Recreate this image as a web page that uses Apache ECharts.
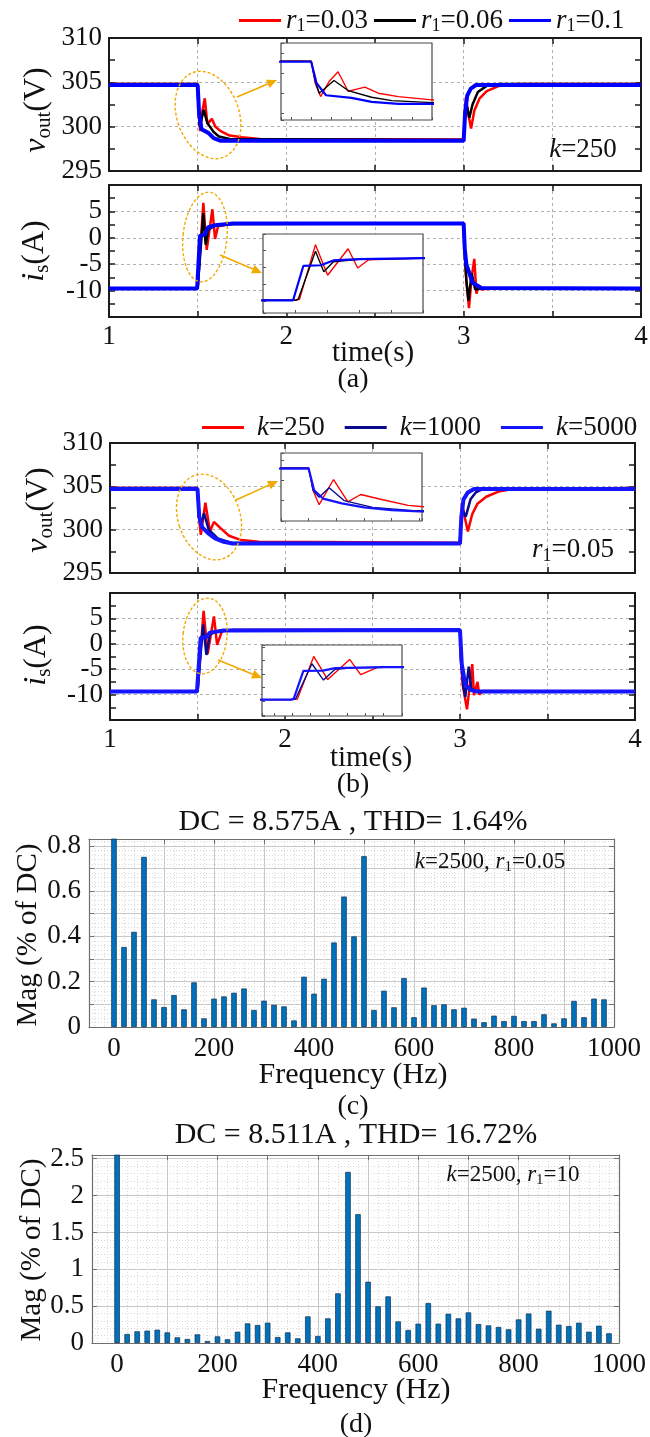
<!DOCTYPE html>
<html>
<head>
<meta charset="utf-8">
<script src="https://cdn.jsdelivr.net/npm/echarts@6/dist/echarts.min.js"></script>
<style>
  html, body { margin: 0; padding: 0; background: #fff; }
  #chart { width: 650px; height: 1437px; }
</style>
</head>
<body>
<div id="chart"></div>
<script>
// ---------- data ----------
// (a) k=250, different r1 : [time s, value]
const voutA_r003 = [[1,304.8],[1.5,304.8],[1.506,301.5],[1.514,299.5],[1.527,301.8],[1.54,303.2],[1.555,300.3],[1.568,300.6],[1.58,300.9],[1.6,300.0],[1.63,299.5],[1.68,299.0],[1.75,298.8],[1.85,298.6],[3,298.55],[3.006,301.5],[3.013,303.3],[3.025,301.5],[3.042,299.8],[3.06,301.8],[3.09,303.2],[3.13,304.0],[3.2,304.6],[3.3,304.8],[4,304.8]];
const voutA_r006 = [[1,304.8],[1.5,304.8],[1.506,301.8],[1.512,300.0],[1.534,301.9],[1.555,300.4],[1.59,299.4],[1.62,298.9],[1.68,298.6],[3,298.5],[3.008,301.5],[3.015,302.6],[3.032,301.0],[3.05,302.5],[3.08,303.9],[3.13,304.6],[3.2,304.8],[4,304.8]];
const voutA_r01  = [[1,304.7],[1.5,304.7],[1.508,301.5],[1.522,299.7],[1.56,299.3],[1.59,298.7],[1.63,298.4],[3,298.4],[3.008,301.5],[3.02,303.5],[3.04,304.3],[3.07,304.7],[4,304.7]];
const isA_r003 = [[1,-9.6],[1.5,-9.6],[1.507,-9.3],[1.532,6.6],[1.551,-2.3],[1.583,5.4],[1.598,-0.2],[1.615,2.2],[1.65,2.4],[1.7,2.7],[3,2.7],[3.004,-2],[3.015,-8],[3.03,-13.3],[3.045,-7.5],[3.06,-4],[3.072,-10.6],[3.085,-9],[3.1,-9.8],[3.15,-9.6],[4,-9.6]];
const isA_r006 = [[1,-9.6],[1.5,-9.6],[1.505,-9.3],[1.532,4.7],[1.545,-1.3],[1.56,1.6],[1.6,2.3],[1.7,2.6],[3,2.7],[3.004,-2],[3.015,-8],[3.027,-11.9],[3.045,-6.7],[3.065,-9.8],[3.1,-9.6],[4,-9.6]];
const isA_r01  = [[1,-9.6],[1.497,-9.6],[1.5,-9.3],[1.513,0.4],[1.54,0.6],[1.56,2.0],[1.6,2.4],[1.7,2.7],[3,2.7],[3.006,-2],[3.015,-5],[3.05,-8.5],[3.1,-9.5],[4,-9.6]];

// (b) r1=0.05, different k
const voutB_k250  = [[1,304.8],[1.5,304.8],[1.508,301.5],[1.519,299.4],[1.545,303.1],[1.571,299.8],[1.594,300.9],[1.63,300.2],[1.68,299.3],[1.75,298.8],[1.85,298.6],[3,298.5],[3.006,301.5],[3.012,303.0],[3.025,301.6],[3.045,299.8],[3.07,301.8],[3.1,303.0],[3.15,303.8],[3.22,304.4],[3.3,304.7],[4,304.8]];
const voutB_k1000 = [[1,304.8],[1.5,304.8],[1.508,301.5],[1.519,300.5],[1.537,301.9],[1.564,300.0],[1.616,299.0],[1.69,298.5],[3,298.4],[3.008,301.5],[3.015,302.3],[3.033,301.5],[3.06,303.5],[3.09,304.3],[3.12,304.6],[4,304.8]];
const voutB_k5000 = [[1,304.7],[1.5,304.7],[1.51,301.5],[1.526,300.3],[1.56,299.6],[1.6,299.0],[1.65,298.6],[1.7,298.4],[3,298.4],[3.008,301.5],[3.02,303.5],[3.045,304.3],[3.08,304.7],[4,304.7]];
const isB_k250  = [[1,-9.4],[1.5,-9.4],[1.508,-9.2],[1.535,6.5],[1.558,-2.0],[1.594,5.4],[1.612,-0.2],[1.64,2.5],[1.7,2.7],[3,2.7],[3.004,-2],[3.015,-8],[3.04,-12.9],[3.07,-4.0],[3.08,-10.1],[3.1,-7.5],[3.11,-10.0],[3.13,-9.3],[4,-9.4]];
const isB_k1000 = [[1,-9.4],[1.5,-9.4],[1.505,-9.2],[1.532,3.8],[1.551,-2.2],[1.57,1.8],[1.6,2.3],[1.7,2.7],[3,2.7],[3.005,-3],[3.02,-8.5],[3.03,-10.5],[3.05,-4.5],[3.065,-8.8],[3.09,-9.3],[4,-9.4]];
const isB_k5000 = [[1,-9.4],[1.497,-9.4],[1.502,-9.1],[1.518,1.2],[1.55,1.3],[1.57,2.2],[1.65,2.6],[3,2.7],[3.01,-4],[3.03,-8],[3.06,-9.1],[3.1,-9.4],[4,-9.4]];

// (c), (d) spectra
const freqHz = [0,20,40,60,80,100,120,140,160,180,200,220,240,260,280,300,320,340,360,380,400,420,440,460,480,500,520,540,560,580,600,620,640,660,680,700,720,740,760,780,800,820,840,860,880,900,920,940,960,980];
const magC = [100,0.353,0.42,0.751,0.122,0.088,0.141,0.078,0.197,0.038,0.125,0.135,0.151,0.17,0.075,0.116,0.098,0.091,0.029,0.222,0.147,0.213,0.373,0.576,0.40,0.754,0.075,0.16,0.087,0.216,0.043,0.174,0.096,0.10,0.078,0.085,0.037,0.021,0.05,0.026,0.049,0.026,0.026,0.056,0.016,0.038,0.115,0.043,0.125,0.122];
const magD = [100,0.122,0.158,0.167,0.18,0.144,0.077,0.054,0.117,0.027,0.09,0.05,0.153,0.266,0.244,0.275,0.081,0.144,0.063,0.361,0.095,0.334,0.673,2.32,1.747,0.831,0.497,0.632,0.293,0.176,0.262,0.542,0.262,0.397,0.334,0.415,0.257,0.239,0.217,0.185,0.32,0.40,0.194,0.438,0.248,0.23,0.275,0.153,0.235,0.131];

// tick labels
const timeTicks = [1, 2, 3, 4];
const voutTicks = [295, 300, 305, 310];
const isTicks = [-10, -5, 0, 5];
const freqTicks = [0, 200, 400, 600, 800, 1000];
const magCTicks = [0, 0.2, 0.4, 0.6, 0.8];
const magDTicks = [0, 0.5, 1, 1.5, 2, 2.5];

// ---------- helpers ----------
const SERIF = "'Liberation Serif', 'DejaVu Serif', serif";
const INK = '#1a1a1a';
const GOLD = '#f2a900';
const TICK_FS = 27;

const grids = [], xAxes = [], yAxes = [], series = [];

function pick(list) {
    return function (v) {
        for (const t of list) if (Math.abs(v - t) < 1e-6) return String(t);
        return '';
    };
}

function timeAxis(gi, pos, labels) {
    return {
        type: 'value', gridIndex: gi, position: pos, min: 1, max: 4, interval: 0.5,
        axisLine: { show: true, onZero: false, lineStyle: { color: INK, width: 2 } },
        axisTick: { show: true, inside: true, length: 6, lineStyle: { color: INK, width: 1.5 } },
        axisLabel: { show: labels, margin: 6, fontFamily: SERIF, fontSize: TICK_FS, color: '#111', formatter: pick(timeTicks) },
        splitLine: { show: pos === 'bottom', lineStyle: { color: '#b0b0b0', type: [3, 3], width: 1 } }
    };
}

function valAxis(gi, pos, cfg, labels) {
    return {
        type: 'value', gridIndex: gi, position: pos, min: cfg.min, max: cfg.max, interval: 5,
        axisLine: { show: true, onZero: false, lineStyle: { color: INK, width: 2 } },
        axisTick: { show: true, inside: true, length: 6, lineStyle: { color: INK, width: 1.5 } },
        minorTick: { show: true, splitNumber: 2, length: 6, lineStyle: { color: INK, width: 1.5 } },
        axisLabel: { show: labels, margin: 7, fontFamily: SERIF, fontSize: TICK_FS, color: '#111', formatter: pick(cfg.ticks) },
        splitLine: { show: pos === 'left', lineStyle: { color: '#b0b0b0', type: [3, 3], width: 1 } }
    };
}

function addTimePanel(rect, cfg, showX) {
    const gi = grids.length;
    grids.push(Object.assign({ outerBoundsMode: 'none', containLabel: false }, rect));
    const xi = xAxes.length, yi = yAxes.length;
    xAxes.push(timeAxis(gi, 'bottom', showX), timeAxis(gi, 'top', false));
    yAxes.push(valAxis(gi, 'left', cfg, true), valAxis(gi, 'right', cfg, false));
    return { xi, yi };
}

function addInset(rect, xr, yr) {
    const gi = grids.length;
    grids.push(Object.assign({
        outerBoundsMode: 'none', containLabel: false, show: true, z: 10,
        backgroundColor: '#fff', borderColor: '#4a4a4a', borderWidth: 1.2
    }, rect));
    const common = {
        type: 'value', gridIndex: gi, z: 11,
        axisLine: { show: false, onZero: false },
        axisTick: { show: true, inside: true, length: 3, lineStyle: { color: '#555' } },
        axisLabel: { show: false }, splitLine: { show: false }
    };
    const xi = xAxes.length, yi = yAxes.length;
    xAxes.push(Object.assign({ min: xr[0], max: xr[1], splitNumber: 6 }, common));
    yAxes.push(Object.assign({ min: yr[0], max: yr[1], splitNumber: 4 }, common));
    return { xi, yi };
}

function barAxisX(gi, pos) {
    return {
        type: 'value', gridIndex: gi, position: pos, min: -50, max: 1000, splitNumber: 10,
        axisLine: { show: true, onZero: false, lineStyle: { color: '#6e6e6e', width: 1.2 } },
        axisTick: { show: true, inside: true, length: 5, lineStyle: { color: '#6e6e6e' } },
        minorTick: { show: false, splitNumber: 5 },
        minorSplitLine: { show: pos === 'bottom', lineStyle: { color: '#d8d8d8', type: [1, 2] } },
        axisLabel: { show: pos === 'bottom', margin: 8, fontFamily: SERIF, fontSize: TICK_FS, color: '#111', formatter: pick(freqTicks) },
        splitLine: { show: pos === 'bottom', lineStyle: { color: '#c8c8c8', width: 1 } }
    };
}

function barAxisY(gi, pos, cfg) {
    return {
        type: 'value', gridIndex: gi, position: pos, min: 0, max: cfg.max, interval: cfg.step,
        axisLine: { show: true, onZero: false, lineStyle: { color: '#6e6e6e', width: 1.2 } },
        axisTick: { show: true, inside: true, length: 5, lineStyle: { color: '#6e6e6e' } },
        minorTick: { show: false, splitNumber: 5 },
        minorSplitLine: { show: pos === 'left', lineStyle: { color: '#d8d8d8', type: [1, 2] } },
        axisLabel: { show: pos === 'left', margin: 8, fontFamily: SERIF, fontSize: TICK_FS, color: '#111', formatter: pick(cfg.ticks) },
        splitLine: { show: pos === 'left', lineStyle: { color: '#c8c8c8', width: 1 } }
    };
}

function addBarPanel(rect, cfg, data) {
    const gi = grids.length;
    grids.push(Object.assign({ outerBoundsMode: 'none', containLabel: false }, rect));
    const xi = xAxes.length, yi = yAxes.length;
    xAxes.push(barAxisX(gi, 'bottom'), barAxisX(gi, 'top'));
    yAxes.push(barAxisY(gi, 'left', cfg), barAxisY(gi, 'right', cfg));
    series.push({
        type: 'bar', xAxisIndex: xi, yAxisIndex: yi, barWidth: 5.5, clip: true,
        itemStyle: { color: '#0072BD', borderColor: '#12304e', borderWidth: 0.7 },
        data: freqHz.map((f, i) => [f, data[i]])
    });
}

function lines(ax, traces, inset) {
    traces.forEach(t => {
        series.push({
            type: 'line', name: t.name, xAxisIndex: ax.xi, yAxisIndex: ax.yi,
            data: t.data, symbol: 'none', clip: true, z: inset ? 12 : 2,
            lineStyle: { color: t.color, width: inset ? t.w * 0.55 : t.w },
            itemStyle: { color: t.color }
        });
    });
}

// ---------- panels ----------
const voutCfg = { min: 295, max: 310, ticks: voutTicks };
const isCfg = { min: -15, max: 10, ticks: isTicks };

const tracesVA = [
    { name: 'r1=0.03', data: voutA_r003, color: '#ff0000', w: 2.5 },
    { name: 'r1=0.06', data: voutA_r006, color: '#000000', w: 2.5 },
    { name: 'r1=0.1', data: voutA_r01, color: '#0000ff', w: 4 }
];
const tracesIA = [
    { name: 'r1=0.03', data: isA_r003, color: '#ff0000', w: 2.5 },
    { name: 'r1=0.06', data: isA_r006, color: '#000000', w: 2.5 },
    { name: 'r1=0.1', data: isA_r01, color: '#0000ff', w: 4 }
];
const tracesVB = [
    { name: 'k=250', data: voutB_k250, color: '#ff0000', w: 2.5 },
    { name: 'k=1000', data: voutB_k1000, color: '#0a0a8c', w: 2.5 },
    { name: 'k=5000', data: voutB_k5000, color: '#1414ff', w: 4 }
];
const tracesIB = [
    { name: 'k=250', data: isB_k250, color: '#ff0000', w: 2.5 },
    { name: 'k=1000', data: isB_k1000, color: '#0a0a8c', w: 2.5 },
    { name: 'k=5000', data: isB_k5000, color: '#1414ff', w: 4 }
];

lines(addTimePanel({ left: 109, top: 38, width: 532, height: 133 }, voutCfg, false), tracesVA);
lines(addTimePanel({ left: 109, top: 185, width: 532, height: 132 }, isCfg, true), tracesIA);
lines(addTimePanel({ left: 110, top: 443, width: 525, height: 130 }, voutCfg, false), tracesVB);
lines(addTimePanel({ left: 110, top: 593, width: 525, height: 127 }, isCfg, true), tracesIB);

lines(addInset({ left: 281, top: 43, width: 151, height: 77 }, [1.455, 1.68], [296, 307.5]), tracesVA, true);
lines(addInset({ left: 263, top: 234, width: 160, height: 79 }, [1.45, 1.70], [-13.3, 9.7]), tracesIA, true);
lines(addInset({ left: 281, top: 453, width: 141, height: 68 }, [1.45, 1.705], [297, 307]), tracesVB, true);
lines(addInset({ left: 262, top: 645, width: 140, height: 71 }, [1.45, 1.68], [-15.4, 10.7]), tracesIB, true);

addBarPanel({ left: 89, top: 839, width: 525, height: 188 }, { max: 0.83, step: 0.1, ticks: magCTicks }, magC);
addBarPanel({ left: 92, top: 1155, width: 527, height: 188 }, { max: 2.55, step: 0.5, ticks: magDTicks }, magD);

// ---------- annotations ----------
function richOf(size, sub, pad) {
    return {
        i: { fontFamily: SERIF, fontSize: size, fontStyle: 'italic', color: '#111' },
        n: { fontFamily: SERIF, fontSize: size, color: '#111' },
        s: { fontFamily: SERIF, fontSize: sub, color: '#111', padding: [pad, 0, 0, 0] }
    };
}
const richBase = richOf(27, 18, 12);

function txt(x, y, text, size, opts) {
    opts = opts || {};
    return {
        type: 'text', x: x, y: y, z: 100, rotation: opts.rot || 0,
        style: {
            text: text, fontFamily: SERIF, fontSize: size, fill: '#111',
            align: 'center', verticalAlign: 'middle', textAlign: 'center', textVerticalAlign: 'middle',
            rich: opts.rich
        }
    };
}
function arrow(x1, y1, x2, y2) {
    const a = Math.atan2(y2 - y1, x2 - x1), L = 10, W = 4.5;
    const bx = x2 - L * Math.cos(a), by = y2 - L * Math.sin(a);
    return [
        { type: 'line', z: 100, shape: { x1: x1, y1: y1, x2: bx, y2: by }, style: { stroke: GOLD, lineWidth: 1.6 } },
        { type: 'polygon', z: 100, shape: { points: [[x2, y2], [bx - W * Math.sin(a), by + W * Math.cos(a)], [bx + W * Math.sin(a), by - W * Math.cos(a)]] }, style: { fill: GOLD } }
    ];
}
function ellipse(cx, cy, rx, ry, rot) {
    return {
        type: 'ellipse', z: 100, x: cx, y: cy, rotation: rot,
        shape: { cx: 0, cy: 0, rx: rx, ry: ry },
        style: { fill: 'none', stroke: GOLD, lineWidth: 1.4, lineDash: [3, 2] }
    };
}

const nameRich = richOf(32, 21, 15);
const graphics = [
    txt(37, 110, '{i|v}{s|out}{n|(V)}', 32, { rot: Math.PI / 2, rich: nameRich }),
    txt(35, 251, '{i|i}{s|s}{n|(A)}', 32, { rot: Math.PI / 2, rich: nameRich }),
    txt(39, 510, '{i|v}{s|out}{n|(V)}', 32, { rot: Math.PI / 2, rich: nameRich }),
    txt(37, 655, '{i|i}{s|s}{n|(A)}', 32, { rot: Math.PI / 2, rich: nameRich }),
    txt(28, 935, 'Mag (% of DC)', 29, { rot: Math.PI / 2 }),
    txt(32, 1250, 'Mag (% of DC)', 29, { rot: Math.PI / 2 }),

    txt(373, 353, 'time(s)', 29), txt(353, 380, '(a)', 28),
    txt(371, 758, 'time(s)', 29), txt(353, 785, '(b)', 28),
    txt(353, 822, 'DC = 8.575A , THD= 1.64%', 30),
    txt(353, 1075, 'Frequency (Hz)', 30), txt(353, 1107, '(c)', 28),
    txt(356, 1135, 'DC = 8.511A , THD= 16.72%', 30),
    txt(356, 1390, 'Frequency (Hz)', 30), txt(356, 1425, '(d)', 28),

    txt(583, 150, '{i|k}{n|=250}', 27, { rich: richBase }),
    txt(573, 550, '{i|r}{s|1}{n|=0.05}', 27, { rich: richBase }),
    txt(490, 862, '{i|k}{n|=2500, }{i|r}{s|1}{n|=0.05}', 23, { rich: richOf(23, 15, 10) }),
    txt(513, 1175, '{i|k}{n|=2500, }{i|r}{s|1}{n|=10}', 23, { rich: richOf(23, 15, 10) }),

    ellipse(208, 115, 31, 45, 0.34),
    ellipse(205, 237, 22, 45, -0.1),
    ellipse(209, 517, 31, 44, 0.32),
    ellipse(205, 636, 22, 38, -0.1)
].concat(arrow(237, 97, 277, 80), arrow(220, 255, 262, 273), arrow(236, 500, 278, 481), arrow(218, 660, 262, 678));

const legendCommon = {
    orient: 'horizontal', icon: 'rect', itemWidth: 42, itemHeight: 3,
    textStyle: { fontFamily: SERIF, fontSize: 27, color: '#111', rich: richBase }
};

const chart = echarts.init(document.getElementById('chart'), null, { renderer: 'canvas' });
chart.setOption({
    backgroundColor: '#fff',
    animation: false,
    textStyle: { fontFamily: SERIF },
    legend: [
        Object.assign({}, legendCommon, {
            left: 234, top: 2, itemGap: 6,
            data: ['r1=0.03', 'r1=0.06', 'r1=0.1'],
            formatter: n => '{i|r}{s|1}{n|' + n.slice(2) + '}'
        }),
        Object.assign({}, legendCommon, {
            left: 197, top: 409, itemGap: 20,
            data: ['k=250', 'k=1000', 'k=5000'],
            textStyle: { fontFamily: SERIF, fontSize: 27, color: '#111', rich: richBase, padding: [0, 0, 0, 8] },
            formatter: n => '{i|k}{n|' + n.slice(1) + '}'
        })
    ],
    grid: grids,
    xAxis: xAxes,
    yAxis: yAxes,
    series: series,
    graphic: graphics
});
</script>
</body>
</html>
